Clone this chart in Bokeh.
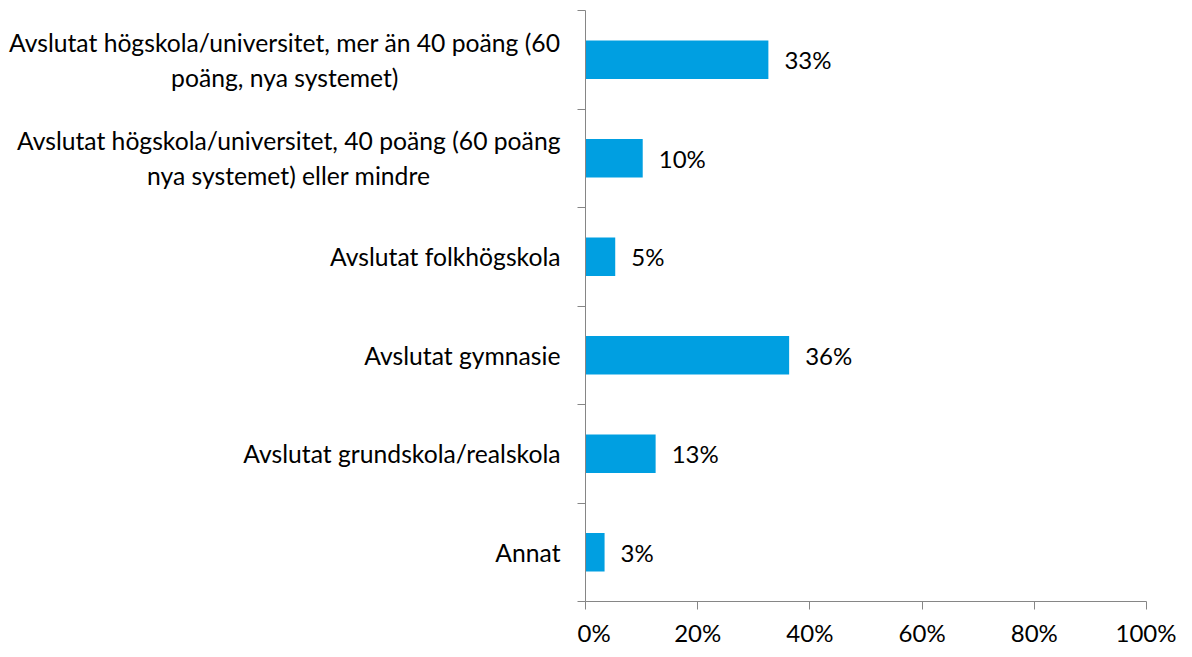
from bokeh.plotting import figure
from bokeh.layouts import row
from bokeh.models import Range1d, FixedTicker, NumeralTickFormatter, ColumnDataSource, LabelSet
from bokeh.core.properties import value
from bokeh.embed import file_html
from bokeh.resources import INLINE

categories = [
    "Avslutat högskola/universitet, mer än 40 poäng (60\npoäng, nya systemet)",
    "Avslutat högskola/universitet, 40 poäng (60 poäng\nnya systemet) eller mindre",
    "Avslutat folkhögskola",
    "Avslutat gymnasie",
    "Avslutat grundskola/realskola",
    "Annat",
]
values = [0.326, 0.102, 0.053, 0.363, 0.125, 0.034]
value_labels = ["33%", "10%", "5%", "36%", "13%", "3%"]
x_ticks = [0, 0.2, 0.4, 0.6, 0.8, 1.0]

n = len(categories)
ys = [n - 0.5 - i for i in range(n)]

FONT = "Lato"
FS = "24px"
H = 649
TOP, BOTTOM = 10, 39
LEFT_W = 577

yr = Range1d(0, n)

# left panel holding the category labels
lp = figure(width=LEFT_W, height=H, output_backend="svg", toolbar_location=None,
            x_range=Range1d(0, 1), y_range=yr,
            min_border_left=0, min_border_right=0, min_border_top=TOP, min_border_bottom=BOTTOM)
lp.axis.visible = False
lp.grid.visible = False
lp.outline_line_color = None
csrc = ColumnDataSource(dict(x=[1] * n, y=ys, t=categories))
lp.text(x="x", y="y", text="t", source=csrc, x_offset=-17, anchor=value("center_right"),
        text_align="center", text_baseline="middle", text_font=value(FONT),
        text_font_size="24.7px", text_color="#000000", text_line_height=1.21)

p = figure(width=1176 - LEFT_W, height=H, output_backend="svg", toolbar_location=None,
           x_range=Range1d(0, 1), y_range=yr,
           min_border_left=8, min_border_right=30, min_border_top=TOP, min_border_bottom=BOTTOM)
p.outline_line_color = None
p.xgrid.visible = False
p.ygrid.visible = False

src = ColumnDataSource(dict(y=ys, v=values, lab=value_labels))
p.hbar(y="y", right="v", left=0, height=0.39, source=src, fill_color="#009FE1", line_color=None)

labels = LabelSet(x="v", y="y", text="lab", source=src, x_offset=16, text_align="left",
                  text_baseline="middle", text_font=value(FONT), text_font_size=FS,
                  text_color="#000000")
p.add_layout(labels)

# x axis
p.xaxis.ticker = FixedTicker(ticks=x_ticks, minor_ticks=[])
p.xaxis.formatter = NumeralTickFormatter(format="0%")
p.xaxis.axis_line_color = "#868686"
p.xaxis.major_tick_line_color = "#868686"
p.xaxis.major_tick_in = 0
p.xaxis.major_tick_out = 8
p.xaxis.major_label_text_font = FONT
p.xaxis.major_label_text_font_size = FS
p.xaxis.major_label_text_color = "#000000"
p.xaxis.major_label_standoff = 8

# y axis: ticks at category boundaries, labels drawn in the left panel
p.yaxis.ticker = FixedTicker(ticks=[], minor_ticks=list(range(n + 1)))
p.yaxis.axis_line_color = "#868686"
p.yaxis.major_tick_line_color = None
p.yaxis.major_tick_in = 0
p.yaxis.major_tick_out = 0
p.yaxis.minor_tick_line_color = "#868686"
p.yaxis.minor_tick_in = 0
p.yaxis.minor_tick_out = 8
p.yaxis.major_label_text_font_size = "1px"
p.yaxis.major_label_standoff = 0

open("out.html", "w").write(file_html(row(lp, p), INLINE))
